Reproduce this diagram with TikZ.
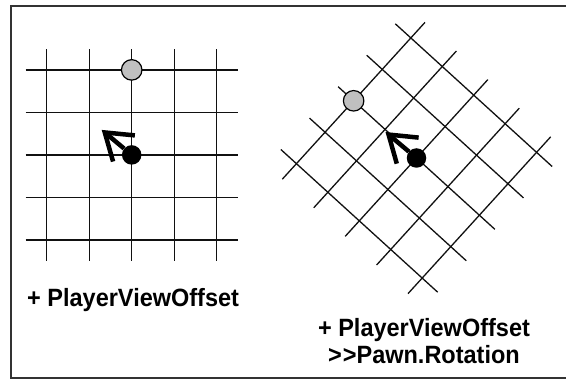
\documentclass[tikz,border=0pt]{standalone}
\usepackage{fontspec}
\setmainfont{Liberation Sans}[FakeStretch=0.94]
\usetikzlibrary{arrows.meta}
\definecolor{GridInk}{HTML}{111111}
\definecolor{GhostGray}{HTML}{C0C0C0}
\definecolor{FrameInk}{HTML}{333333}

\begin{document}
\begin{tikzpicture}[x=1pt, y=1pt,
  gridline/.style={line width=1.3pt, color=GridInk},
  viewdot/.style={circle, draw, fill=GhostGray, line width=1.2pt,
                  minimum size=20.5pt, inner sep=0pt},
  pawndot/.style={circle, fill=black, minimum size=19.5pt, inner sep=0pt},
  viewarr/.style={line width=4.5pt, -{Straight Barb[length=25pt, width=34pt]}},
  caption/.style={font=\fontsize{25}{26.6}\selectfont\bfseries,
                  inner sep=0pt, align=center}
]
\useasboundingbox (0,0) rectangle (566,381);
\draw[line width=1.5pt, FrameInk] (566,375) -- (11,375) -- (11,3) -- (566,3);

% plain grid
\begin{scope}[shift={(131.7,226.1)}]
  \foreach \i in {-2,...,2} {
    \draw[gridline] (\i*42.5,-106) -- (\i*42.5,106);
    \draw[gridline] (-106,\i*42.5) -- (106,\i*42.5);
  }
  \node[viewdot] (viewA) at (0,85) {};
  \node[pawndot] (pawnA) at (0,0) {};
\end{scope}

% grid turned by the pawn rotation
\begin{scope}[shift={(416.5,223)}, rotate=47.7]
  \foreach \i in {-2,...,2} {
    \draw[gridline] (\i*42.5,-106) -- (\i*42.5,106);
    \draw[gridline] (-106,\i*42.5) -- (106,\i*42.5);
  }
  \node[viewdot] (viewB) at (0,85) {};
  \node[pawndot] (pawnB) at (0,0) {};
\end{scope}

\coordinate (tipA) at ([shift={(-30,25)}]pawnA.center);
\coordinate (tipB) at ([shift={(-31,26)}]pawnB.center);
\draw[viewarr] (pawnA) -- (tipA);
\draw[viewarr] (pawnB) -- (tipB);

\node[caption, anchor=base west] (capA) at (27,74.3) {+ PlayerViewOffset};
\node[caption, anchor=base] (capB) at (424,17.7)
  {+ PlayerViewOffset\\>\kern1pt>Pawn.Rotation};

\end{tikzpicture}
\end{document}
